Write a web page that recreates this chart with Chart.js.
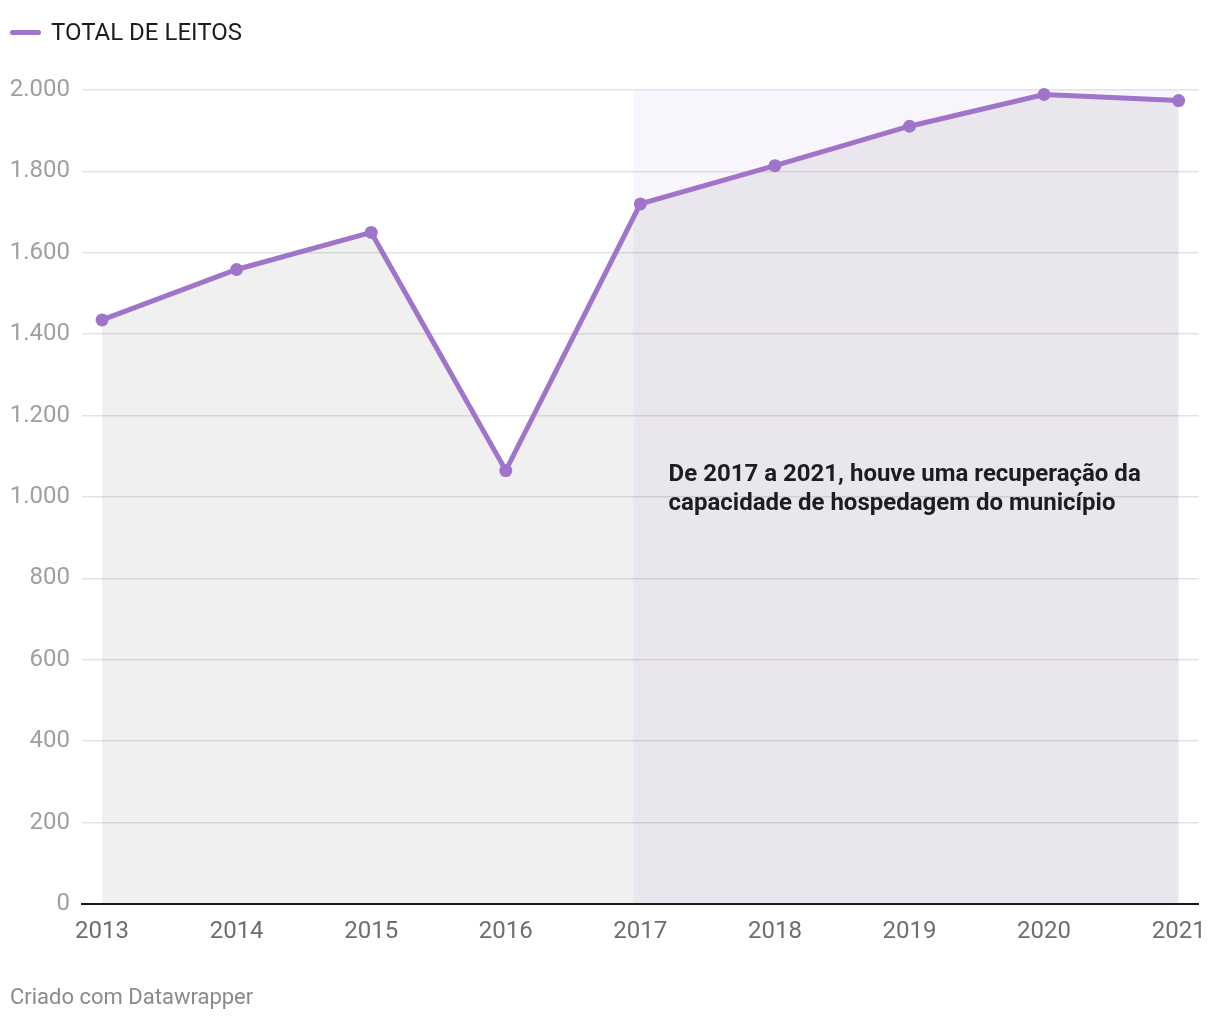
<!DOCTYPE html>
<html>
<head>
<meta charset="utf-8">
<script src="https://cdn.jsdelivr.net/npm/chart.js@4"></script>
<style>
  html, body { margin: 0; padding: 0; background: #fff; }
  body { width: 1220px; height: 1020px; position: relative; overflow: hidden; font-family: Roboto, "Noto Sans", sans-serif; }
  #legend { position: absolute; left: 10px; top: 18px; display: flex; align-items: center; font-size: 24px; color: #1d1d1d; line-height: 28px; }
  #legend .sw { width: 31px; height: 5px; border-radius: 3px; background: #a074c8; margin-right: 10px; }
  #footer { position: absolute; left: 10px; top: 983px; font-size: 22px; color: #8a8a8a; line-height: 28px; }
  #wrap { position: absolute; left: 0; top: 0; width: 1220px; height: 1020px; }
</style>
</head>
<body>
<div id="wrap"><canvas id="c" width="1220" height="1020"></canvas></div>
<div id="legend"><span class="sw"></span><span>TOTAL DE LEITOS</span></div>
<div id="footer">Criado com Datawrapper</div>
<script>
const years = [2013, 2014, 2015, 2016, 2017, 2018, 2019, 2020, 2021];
const totalLeitos = [1435, 1559, 1650, 1065, 1720, 1814, 1911, 1989, 1974];
const yTicks = [0, 200, 400, 600, 800, 1000, 1200, 1400, 1600, 1800, 2000];
const highlightRange = [2016.95, 2021];
const annotationLines = ["De 2017 a 2021, houve uma recuperação da", "capacidade de hospedagem do município"];
const annotationPos = { x: 2017.21, y: 1054 };

function fmtThousands(v) {
  return String(Math.round(v)).replace(/\B(?=(\d{3})+(?!\d))/g, ".");
}

const highlightPlugin = {
  id: 'highlight',
  beforeDatasetsDraw(chart) {
    const { ctx, scales: { x, y } } = chart;
    const x0 = x.getPixelForValue(highlightRange[0]);
    const x1 = x.getPixelForValue(highlightRange[1]);
    const y0 = y.getPixelForValue(2000);
    const y1 = y.getPixelForValue(0);
    ctx.save();
    ctx.fillStyle = 'rgba(160,100,215,0.065)';
    ctx.fillRect(x0, y0, x1 - x0, y1 - y0);
    ctx.restore();
  },
  afterDatasetsDraw(chart) {
    const { ctx, scales: { x, y } } = chart;
    const px = x.getPixelForValue(annotationPos.x);
    const py = y.getPixelForValue(annotationPos.y);
    ctx.save();
    ctx.font = 'bold 24px Roboto, "Noto Sans", sans-serif';
    ctx.fillStyle = '#1d1d1d';
    ctx.textBaseline = 'middle';
    ctx.textAlign = 'left';
    annotationLines.forEach((t, i) => ctx.fillText(t, px, py + i * 29));
    ctx.restore();
  }
};

new Chart(document.getElementById('c'), {
  type: 'line',
  data: {
    datasets: [{
      label: 'TOTAL DE LEITOS',
      data: years.map((yr, i) => ({ x: yr, y: totalLeitos[i] })),
      borderColor: '#a074c8',
      backgroundColor: 'rgba(0,0,0,0.058)',
      borderWidth: 5,
      fill: 'origin',
      tension: 0,
      clip: false,
      pointRadius: 6.5,
      pointBackgroundColor: '#a074c8',
      pointBorderWidth: 0,
      pointHoverRadius: 6.5
    }]
  },
  options: {
    responsive: false,
    animation: false,
    events: [],
    layout: { padding: { left: 10, right: 21, top: 90, bottom: 66 } },
    plugins: { legend: { display: false }, tooltip: { enabled: false }, title: { display: false } },
    scales: {
      x: {
        type: 'linear',
        min: 2012.851,
        max: 2021.149,
        afterBuildTicks(scale) { scale.ticks = years.map(v => ({ value: v })); },
        afterFit(scale) { scale.height = 50; },
        grid: { display: false, drawTicks: false },
        border: { display: true, color: '#1a1a1a', width: 2 },
        ticks: {
          padding: 14,
          autoSkip: false,
          maxRotation: 0,
          color: '#6e6e6e',
          font: { family: 'Roboto', size: 24 },
          callback: v => String(v)
        }
      },
      y: {
        type: 'linear',
        min: 0,
        max: 2000,
        afterBuildTicks(scale) { scale.ticks = yTicks.map(v => ({ value: v })); },
        afterFit(scale) { scale.width = 72; },
        grid: { color: '#e3e3e3', lineWidth: 1.5, drawTicks: false },
        border: { display: false },
        ticks: {
          padding: 12,
          color: '#a0a0a0',
          font: { family: 'Roboto', size: 24 },
          callback: v => fmtThousands(v)
        }
      }
    }
  },
  plugins: [highlightPlugin]
});
</script>
</body>
</html>
